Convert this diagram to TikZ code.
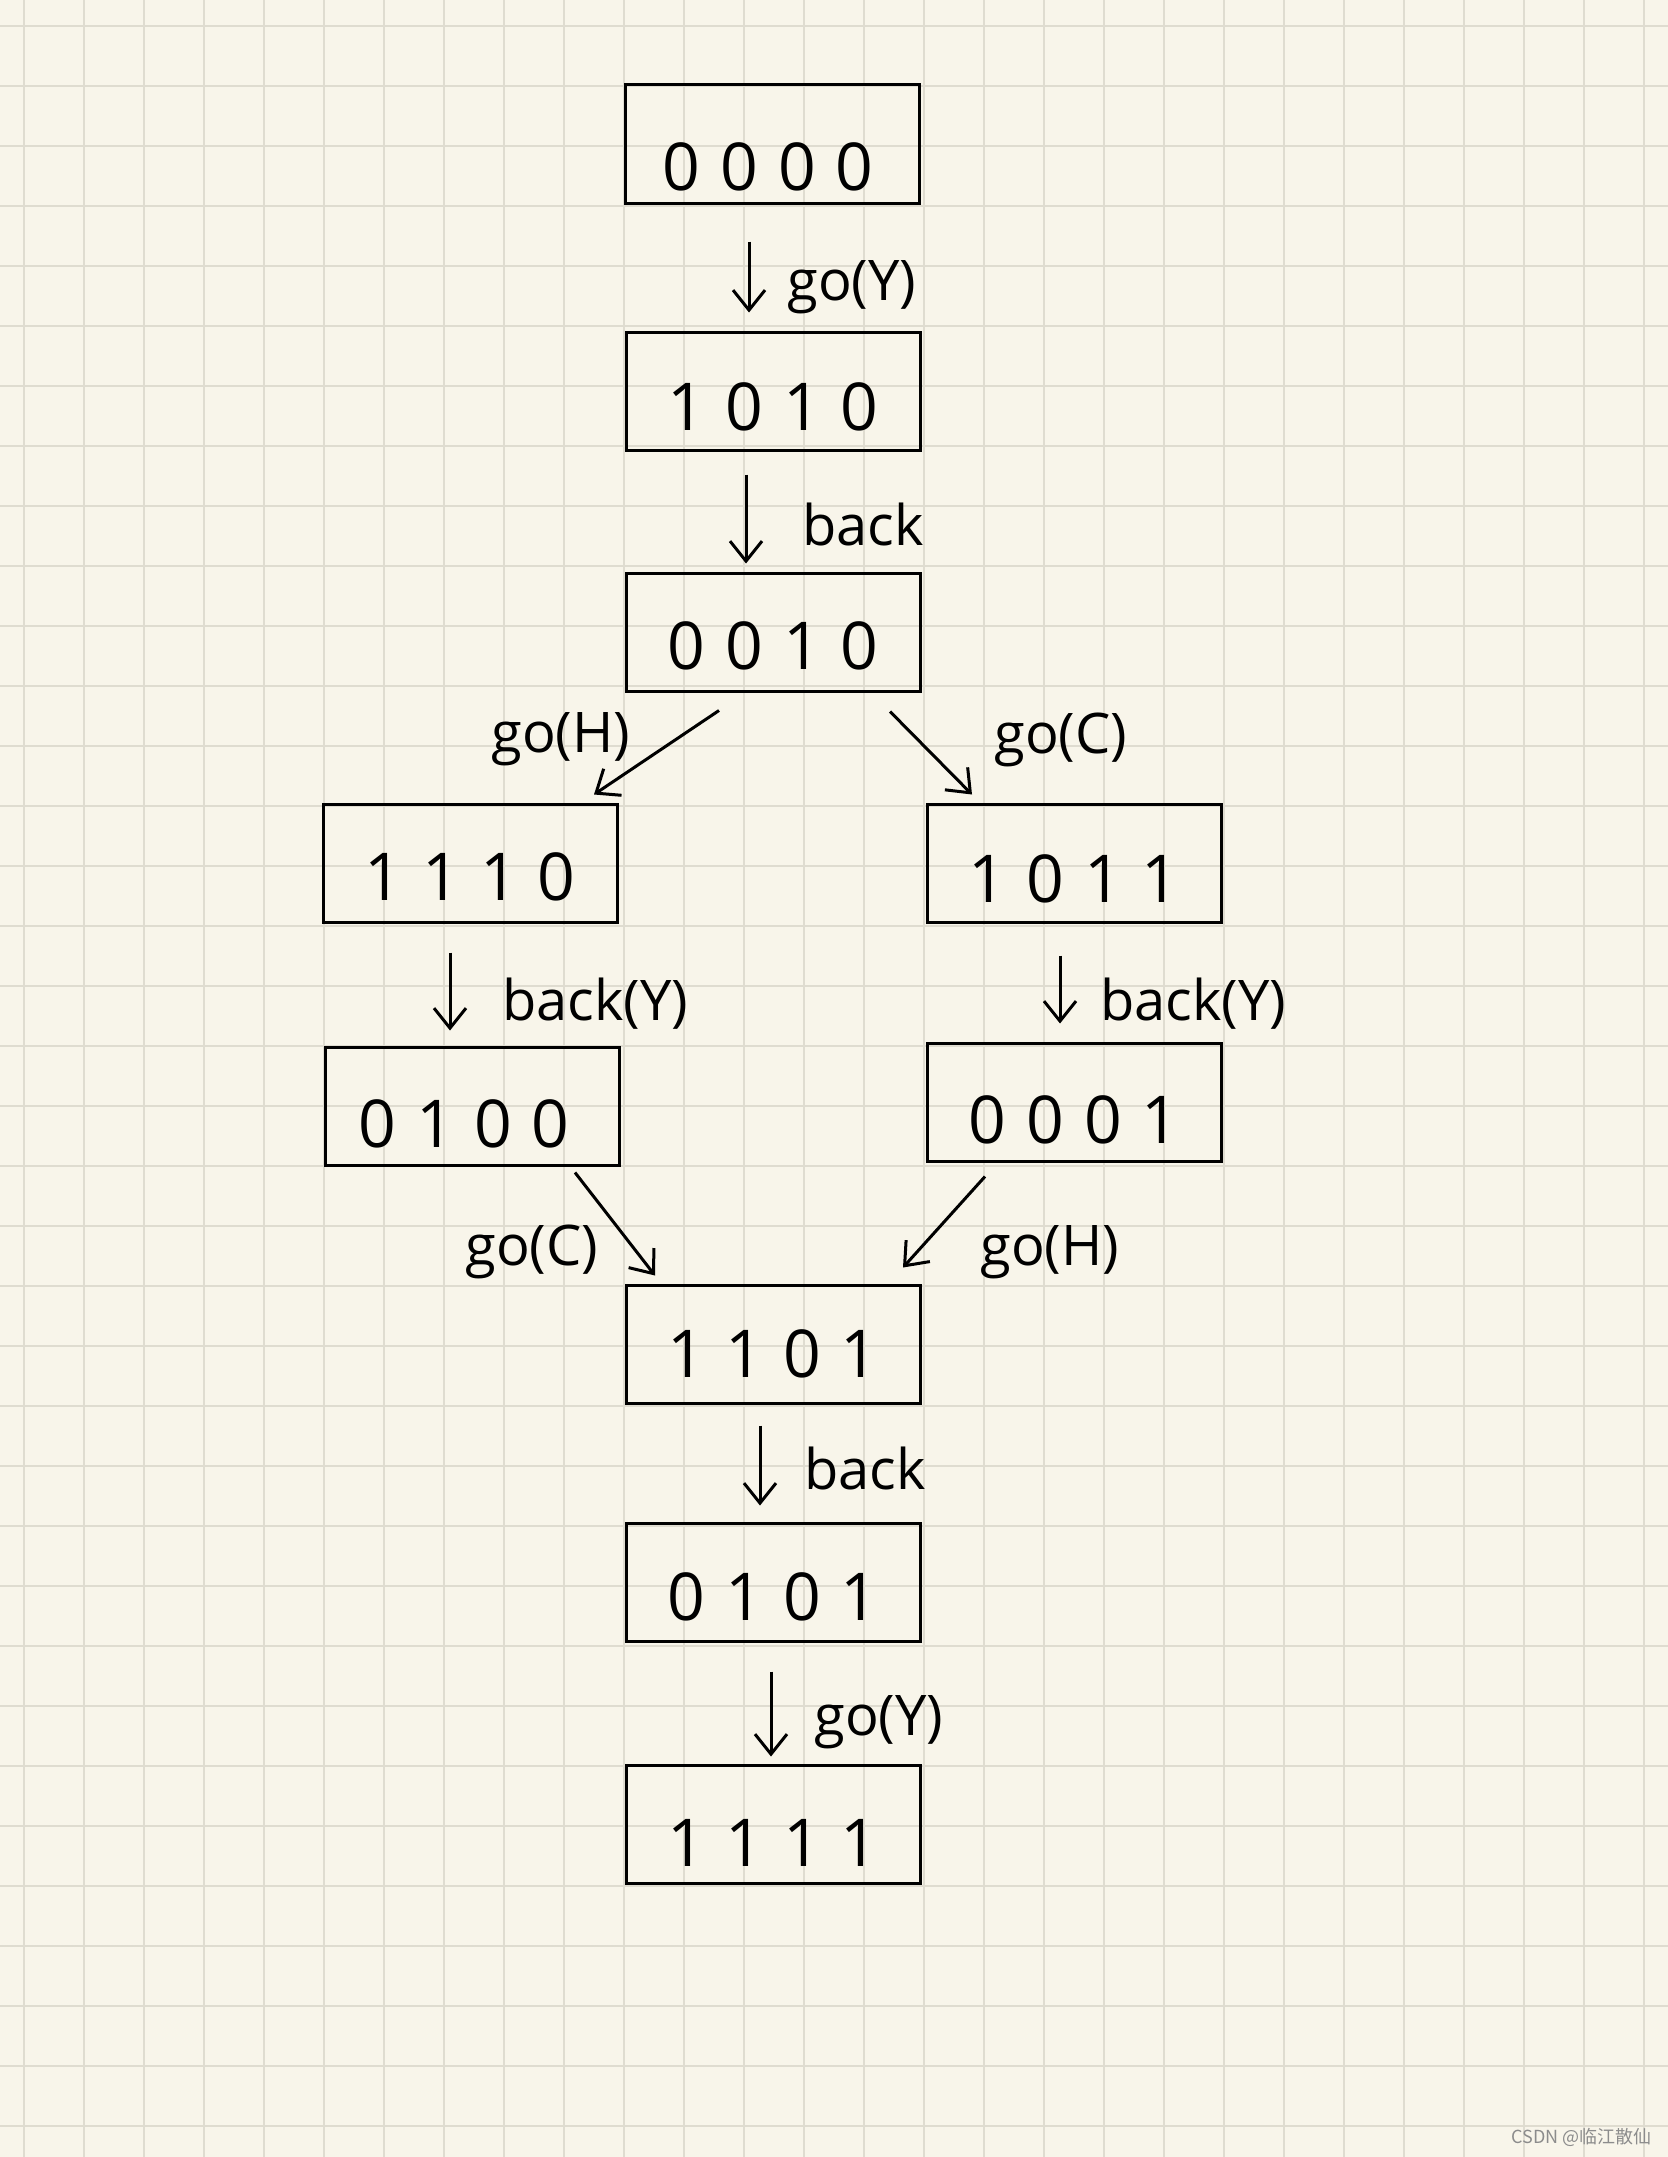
\documentclass[tikz,border=0pt]{standalone}
\usepackage{fontspec}
\setmainfont{Open Sans}
\newfontfamily\cjk{Noto Sans CJK SC}
\usetikzlibrary{arrows.meta,calc}
\definecolor{paper}{HTML}{F8F5EA}
\definecolor{gridc}{HTML}{DFDCD0}
\newcommand\dg[4]{#1\hspace{10pt}#2\hspace{10pt}#3\hspace{10pt}#4}
\begin{document}
\begin{tikzpicture}[x=0.5pt,y=-0.5pt,
  statebox/.style={draw=black,line width=1.5pt,minimum width=147pt,minimum height=59pt,inner sep=0pt},
  digits/.style={inner sep=0pt,font=\fontsize{33}{33}\selectfont},
  arr/.style={draw=black,line width=1.5pt,-{Straight Barb[length=10pt,width=16pt,line width=1.5pt]}},
  lab/.style={anchor=base west,inner sep=0pt,font=\fontsize{28}{28}\selectfont}]
\fill[paper] (0,0) rectangle (1668,2157);
\useasboundingbox (0,0) rectangle (1668,2157);
\foreach \x in {24,84,...,1668} \draw[gridc,line width=1pt] (\x,0) -- (\x,2157);
\foreach \y in {26,86,...,2157} \draw[gridc,line width=1pt] (0,\y) -- (1668,\y);

\node[statebox] (b1) at (772,144) {};
\node[statebox] (b2) at (773,391) {};
\node[statebox] (b3) at (773,632) {};
\node[statebox] (b4) at (470,863) {};
\node[statebox] (b5) at (1074,863) {};
\node[statebox] (b6) at (472,1106) {};
\node[statebox] (b7) at (1074,1102) {};
\node[statebox] (b8) at (773,1344) {};
\node[statebox] (b9) at (773,1582) {};
\node[statebox] (b10) at (773,1824) {};

\node[digits] (t1) at ($(b1.center)+(-4,23)$) {\dg0000};
\node[digits] (t2) at ($(b2.center)+(0,16)$) {\dg1010};
\node[digits] (t3) at ($(b3.center)+(0,14)$) {\dg0010};
\node[digits] (t4) at ($(b4.center)+(0,14)$) {\dg1110};
\node[digits] (t5) at ($(b5.center)+(0,16)$) {\dg1011};
\node[digits] (t6) at ($(b6.center)+(-8,18)$) {\dg0100};
\node[digits] (t7) at ($(b7.center)+(0,18)$) {\dg0001};
\node[digits] (t8) at ($(b8.center)+(0,10)$) {\dg1101};
\node[digits] (t9) at ($(b9.center)+(0,15)$) {\dg0101};
\node[digits] (t10) at ($(b10.center)+(0,19)$) {\dg1111};

\draw[arr] ($(b1.south)+(-23,37)$) -- ($(b2.north)+(-24,-18)$);
\draw[arr] ($(b2.south)+(-27,23)$) -- ($(b3.north)+(-27,-8)$);
\draw[arr] ($(b3.south)+(-54,18)$) -- ($(b4.north)+(124,-8)$);
\draw[arr] ($(b3.south)+(117,19)$) -- ($(b5.north)+(-102,-8)$);
\draw[arr] ($(b4.south)+(-20,29)$) -- ($(b6.north)+(-22,-15)$);
\draw[arr] ($(b5.south)+(-14,32)$) -- ($(b7.north)+(-14,-18)$);
\draw[arr] ($(b6.south)+(103,6)$) -- ($(b8.north)+(-118,-8)$);
\draw[arr] ($(b7.south)+(-89,14)$) -- ($(b8.north)+(130,-16)$);
\draw[arr] ($(b8.south)+(-13,21)$) -- ($(b9.north)+(-13,-16)$);
\draw[arr] ($(b9.south)+(-2,29)$) -- ($(b10.north)+(-2,-7)$);

\node[lab] (l1) at (787,300) {go(Y)};
\node[lab] (l2) at (802,545) {back};
\node[lab] (l3) at (491,752) {go(H)};
\node[lab] (l4) at (994,753) {go(C)};
\node[lab] (l5) at (502,1020) {back(Y)};
\node[lab] (l6) at (1100,1020) {back(Y)};
\node[lab] (l7) at (465,1265) {go(C)};
\node[lab] (l8) at (980,1265) {go(H)};
\node[lab] (l9) at (804,1489) {back};
\node[lab] (l10) at (814,1735) {go(Y)};

\node[anchor=east,inner sep=0pt,text=black!45,font=\cjk\fontsize{9}{9}\selectfont] (wm) at (1652,2137) {CSDN @临江散仙};
\end{tikzpicture}
\end{document}
